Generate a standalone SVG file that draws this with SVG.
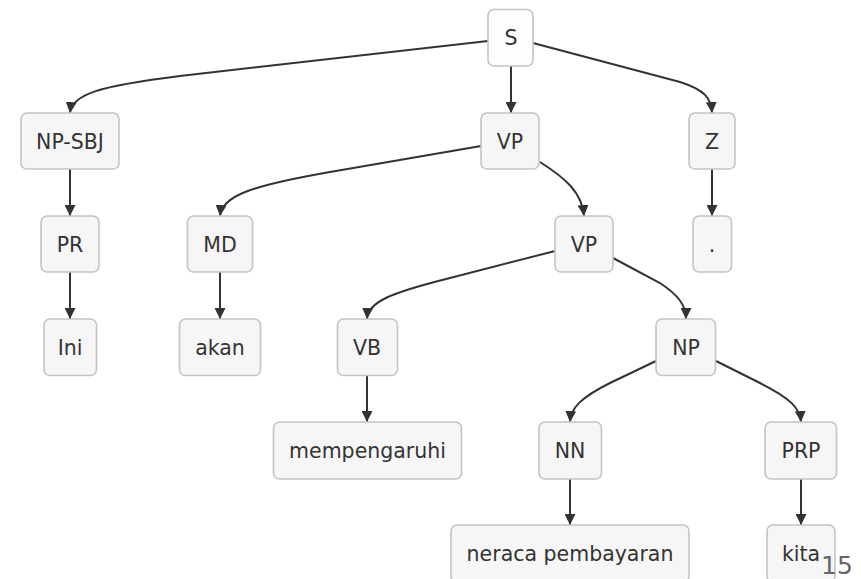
<svg xmlns="http://www.w3.org/2000/svg" width="861" height="579" viewBox="0 0 861 579">
<defs>
<style>
.n rect{fill:#f6f6f6;stroke:#c4c4c4;stroke-width:1.6}
.n text{font-family:"DejaVu Sans",sans-serif;font-size:20.5px;fill:#333;text-anchor:middle}
.e path{fill:none;stroke:#333;stroke-width:2;marker-end:url(#ah)}
</style>
<marker id="ah" viewBox="0 0 10 10" refX="10" refY="5" markerWidth="5.5" markerHeight="5.5" orient="auto" markerUnits="strokeWidth">
<path d="M0,0 L10,5 L0,10 z" fill="#333"/>
</marker>
</defs>
<rect width="861" height="579" fill="#fff"/>
<g class="e" id="edges">
<path d="M488,41 L180,76 C100,86 72,94 70,113"/>
<path d="M511,66 L511,113"/>
<path d="M533,43 L680,82 C705,90 711,98 712,113"/>
<path d="M70,169 L70,216"/>
<path d="M481,146 L330,172 C250,186 222,196 220,216"/>
<path d="M540,162 C565,178 582,192 584,216"/>
<path d="M712,169 L712,216"/>
<path d="M70,272 L70,319"/>
<path d="M220,272 L220,319"/>
<path d="M555,251 L450,278 C390,293 368,302 367,319"/>
<path d="M613,258 L660,283 C678,295 686,305 686,319"/>
<path d="M367,376 L367,422"/>
<path d="M656,361 L610,383 C580,398 571,408 570,422"/>
<path d="M716,361 L760,383 C790,398 800,408 801,422"/>
<path d="M570,479 L570,525"/>
<path d="M801,479 L801,525"/>
</g>
<g class="n" id="n-S"><rect x="488" y="9.5" width="45" height="56.5" rx="6" style="fill:#fdfdfd"/><text x="511" y="45">S</text></g>
<g class="n" id="n-NPSBJ"><rect x="21" y="113" width="98" height="56" rx="6"/><text x="70" y="149">NP-SBJ</text></g>
<g class="n" id="n-VP1"><rect x="481" y="113" width="58" height="56" rx="6"/><text x="510" y="149">VP</text></g>
<g class="n" id="n-Z"><rect x="689" y="113" width="46" height="56" rx="6"/><text x="712" y="149">Z</text></g>
<g class="n" id="n-PR"><rect x="41" y="216" width="58" height="56" rx="6"/><text x="70" y="252">PR</text></g>
<g class="n" id="n-MD"><rect x="187.5" y="216" width="65" height="56" rx="6"/><text x="220" y="252">MD</text></g>
<g class="n" id="n-VP2"><rect x="555" y="216" width="58" height="56" rx="6"/><text x="584" y="252">VP</text></g>
<g class="n" id="n-dot"><rect x="693" y="216" width="38.5" height="56" rx="6"/><text x="712" y="252">.</text></g>
<g class="n" id="n-Ini"><rect x="44" y="319" width="52.5" height="56.5" rx="6"/><text x="70" y="355">Ini</text></g>
<g class="n" id="n-akan"><rect x="179.5" y="319" width="81" height="56.5" rx="6"/><text x="220" y="355">akan</text></g>
<g class="n" id="n-VB"><rect x="337.5" y="319" width="60" height="56.5" rx="6"/><text x="367" y="355">VB</text></g>
<g class="n" id="n-NP"><rect x="656" y="319" width="59.5" height="56.5" rx="6"/><text x="686" y="355">NP</text></g>
<g class="n" id="n-mempengaruhi"><rect x="273.5" y="422" width="188" height="57" rx="6"/><text x="367.5" y="458">mempengaruhi</text></g>
<g class="n" id="n-NN"><rect x="539" y="422" width="62.5" height="57" rx="6"/><text x="570" y="458">NN</text></g>
<g class="n" id="n-PRP"><rect x="765" y="422" width="71.5" height="57" rx="6"/><text x="801" y="458">PRP</text></g>
<g class="n" id="n-neraca"><rect x="451" y="525" width="238" height="57" rx="6"/><text x="570" y="561">neraca pembayaran</text></g>
<g class="n" id="n-kita"><rect x="767" y="525" width="68" height="57" rx="6"/><text x="801" y="561">kita</text></g>
<text x="821" y="574" style="font-family:'DejaVu Sans',sans-serif;font-size:25px;fill:#666">15</text>
</svg>
